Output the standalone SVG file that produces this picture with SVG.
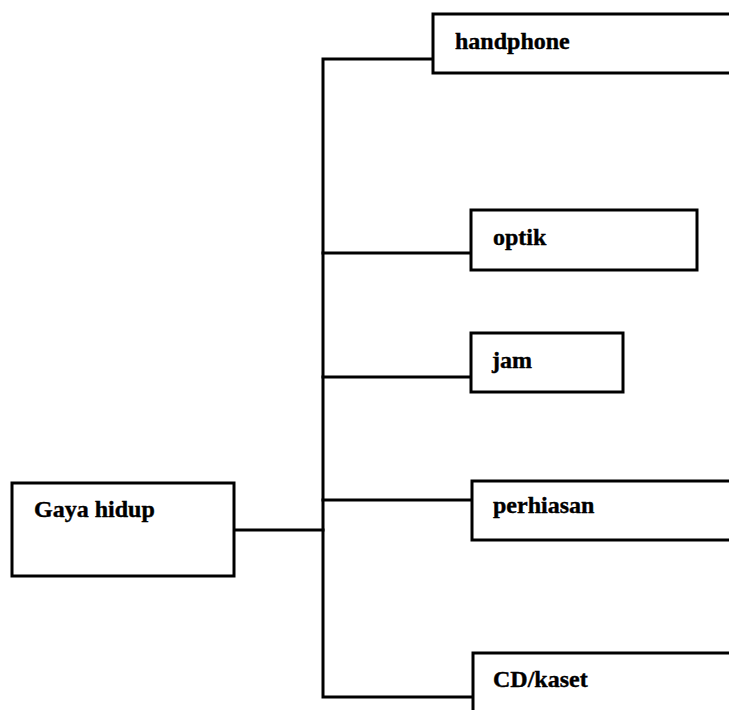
<svg xmlns="http://www.w3.org/2000/svg" width="729" height="710" viewBox="0 0 729 710">
<style>
.box{fill:#fff;stroke:#000;stroke-width:3;stroke-linejoin:miter}
.lbl{font-family:"Liberation Serif","Times New Roman",serif;font-weight:bold;font-size:24px;fill:#000;stroke:#000;stroke-width:0.4}
.conn{fill:none;stroke:#000;stroke-width:3;stroke-linecap:square}
</style>
<rect width="729" height="710" fill="#fff"/>
<g id="connectors">
<path class="conn" d="M433 59 H323 V697 H473"/>
<path class="conn" d="M234 530 H323"/>
<path class="conn" d="M323 253 H471"/>
<path class="conn" d="M323 377 H471"/>
<path class="conn" d="M323 500 H472"/>
</g>
<g id="gaya-hidup">
<rect class="box" x="12" y="483" width="222" height="93"/>
<text class="lbl" x="34" y="517">Gaya hidup</text>
</g>
<g id="handphone">
<rect class="box" x="433" y="14" width="310" height="59"/>
<text class="lbl" x="455" y="49">handphone</text>
</g>
<g id="optik">
<rect class="box" x="471" y="210" width="226" height="60"/>
<text class="lbl" x="493" y="245">optik</text>
</g>
<g id="jam">
<rect class="box" x="471" y="333" width="152" height="59"/>
<text class="lbl" x="492" y="368">jam</text>
</g>
<g id="perhiasan">
<rect class="box" x="472" y="481" width="270" height="59"/>
<text class="lbl" x="493" y="513">perhiasan</text>
</g>
<g id="cd-kaset">
<rect class="box" x="473" y="653" width="270" height="70"/>
<text class="lbl" x="493" y="687">CD/kaset</text>
</g>
</svg>
